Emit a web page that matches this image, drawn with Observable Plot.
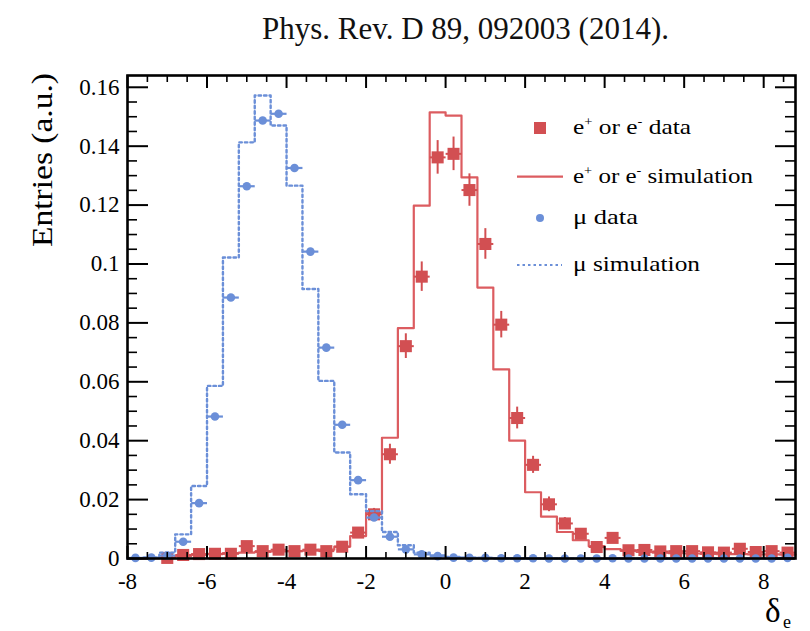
<!DOCTYPE html>
<html><head><meta charset="utf-8">
<script src="https://cdn.jsdelivr.net/npm/d3@7"></script>
<script src="https://cdn.jsdelivr.net/npm/@observablehq/plot@0.6"></script>
<style>
body{margin:0;background:#fff;width:810px;height:631px;overflow:hidden;font-family:"Liberation Serif","Times New Roman",serif}
#hdr{height:60px;position:relative}
#hdr span{position:absolute;left:262px;top:11px;font-size:31px;white-space:nowrap;color:#111}
#chart svg{display:block}
</style></head><body>
<div id="hdr"><span>Phys. Rev. D 89, 092003 (2014).</span></div>
<div id="chart"></div>
<script>
// bin centres (bin width 0.4, range -8 .. 8.8)
const binCenters = [-7.8,-7.4,-7.0,-6.6,-6.2,-5.8,-5.4,-5.0,-4.6,-4.2,-3.8,-3.4,-3.0,-2.6,-2.2,-1.8,-1.4,-1.0,-0.6,-0.2,
  0.2,0.6,1.0,1.4,1.8,2.2,2.6,3.0,3.4,3.8,4.2,4.6,5.0,5.4,5.8,6.2,6.6,7.0,7.4,7.8,8.2,8.6];
const binHalfWidth = 0.2;
const xMax = 8.8;
// mu simulation (dotted histogram)
const muSim = [0,0.0003,0.002,0.0082,0.0246,0.0586,0.1022,0.1413,0.1572,0.1470,0.1266,0.0915,0.0603,0.0360,0.0218,0.0161,0.0090,0.0045,0.0020,0.0010,
  0.0005,0.0003,0.0002,0.0001,0.0001,0,0,0,0,0,0,0,0,0,0,0,0,0,0,0,0,0];
// mu data (points)
const muData = [0.0002,0.0003,0.0010,0.0057,0.0188,0.0482,0.0886,0.1264,0.1487,0.1510,0.1326,0.1042,0.0716,0.0454,0.0266,0.0139,0.0074,0.0031,0.0014,0.0008,
  0.0003,0.0002,0.0002,0.0001,0.0001,0.0001,0,0,0,0,0.0001,0,0,0,0,0,0,0,0,0,0,0.0002];
// e simulation (solid histogram)
const eSim = [0,0.0001,0.0003,0.0008,0.0012,0.0015,0.0018,0.0020,0.0022,0.0024,0.0025,0.0027,0.0030,0.0040,0.0076,0.0156,0.0410,0.0782,0.1198,0.1515,
  0.1504,0.1294,0.0920,0.0642,0.0400,0.0225,0.0142,0.0090,0.0062,0.0042,0.0032,0.0026,0.0022,0.0020,0.0018,0.0017,0.0016,0.0015,0.0015,0.0014,0.0014,0.0013];
// e data (squares) and their vertical errors
const eData = [null,null,0.0002,0.0012,0.0015,0.0016,0.0016,0.0042,0.0025,0.0030,0.0025,0.0030,0.0025,0.0040,0.0088,0.0150,0.0354,0.0721,0.0957,0.1362,
  0.1374,0.1251,0.1068,0.0794,0.0477,0.0318,0.0184,0.0119,0.0084,0.0039,0.0070,0.0028,0.0029,0.0024,0.0025,0.0025,0.0021,0.0020,0.0033,0.0022,0.0025,0.0020];
const eErr = [null,null,0.001,0.001,0.001,0.001,0.001,0.001,0.001,0.001,0.001,0.001,0.001,0.001,0.0015,0.002,0.0034,0.0042,0.005,0.0057,
  0.0057,0.0055,0.0052,0.0045,0.0037,0.0029,0.0025,0.002,0.0017,0.001,0.001,0.001,0.001,0.001,0.001,0.001,0.001,0.001,0.001,0.001,0.001,0.001];
const xTicks = [-8,-6,-4,-2,0,2,4,6,8];
const yTicks = [0,0.02,0.04,0.06,0.08,0.1,0.12,0.14,0.16];
const legendItems = [
  {kind:"square", parts:["e","+"," or e","-"," data"], w:118},
  {kind:"line", parts:["e","+"," or e","-"," simulation"], w:180},
  {kind:"dot", parts:["\u03bc data"], w:65},
  {kind:"dotted", parts:["\u03bc simulation"], w:127}
];
const yTitle = "Entries (a.u.)";

const red = "#d24f52", redLine = "#dc5c60", blue = "#6b8fd8";

const eRows = binCenters.map((c,i)=>({c, v:eData[i], e:eErr[i]})).filter(d=>d.v!=null);
const muRows = binCenters.map((c,i)=>({c, v:muData[i]}));
const steps = arr => binCenters.map((c,i)=>({x:c-binHalfWidth, y:arr[i]})).concat([{x:xMax, y:arr[arr.length-1]}]);

const W = 810, H = 571, mT = 15, mB = 73, mL = 127, mR = 15;
const iH = H - mT - mB, iW = W - mL - mR;
const xMinor = d3.range(-16, 18).map(k=>k*0.5).filter(d=>d%2!==0 && d<=xMax);
const yMinor = d3.range(0, 33).map(k=>k*0.005).filter(d=>Math.abs(d/0.02-Math.round(d/0.02))>1e-6 && d<=0.164);

function annotations(index, scales, values, dim) {
  const g = d3.create("svg:g").attr("font-family",'"Liberation Serif","Times New Roman",serif').attr("fill","#000").attr("text-anchor","start");
  const fx = dim.marginLeft, fy = dim.marginTop;
  // legend
  const lx = fx + 413, rowY = [53, 101.7, 143, 190], tx = fx + 446;
  legendItems.forEach((it, k) => {
    const y = fy + rowY[k];
    if (it.kind === "square") g.append("rect").attr("x", lx-6).attr("y", y-6).attr("width",12).attr("height",12).attr("fill", red);
    if (it.kind === "line") g.append("line").attr("x1", lx-23).attr("x2", lx+23).attr("y1", y).attr("y2", y).attr("stroke", redLine).attr("stroke-width", 2.2);
    if (it.kind === "dot") g.append("circle").attr("cx", lx).attr("cy", y).attr("r", 4).attr("fill", blue);
    if (it.kind === "dotted") g.append("line").attr("x1", lx-23).attr("x2", lx+22).attr("y1", y).attr("y2", y).attr("stroke", blue).attr("stroke-width", 2.2).attr("stroke-dasharray","2.5,3");
    const t = g.append("text").attr("x", tx).attr("y", y+6).attr("font-size", 21).attr("text-anchor","start")
      .attr("textLength", it.w).attr("lengthAdjust", "spacingAndGlyphs");
    if (it.parts.length === 1) t.text(it.parts[0]);
    else {
      t.append("tspan").text(it.parts[0]);
      t.append("tspan").attr("font-size", 12).attr("dy", -8).text(it.parts[1]);
      t.append("tspan").attr("dy", 8).text(it.parts[2]);
      t.append("tspan").attr("font-size", 12).attr("dy", -8).text(it.parts[3]);
      t.append("tspan").attr("dy", 8).text(it.parts[4]);
    }
  });
  // y title
  g.append("text").attr("transform", `translate(${fx-75},${fy-2}) rotate(-90)`).attr("text-anchor","end")
    .attr("font-size", 29).attr("textLength", 174).attr("lengthAdjust","spacingAndGlyphs").text(yTitle);
  // x title delta_e
  const bx = dim.width - dim.marginRight, by = dim.height - dim.marginBottom;
  g.append("text").attr("x", bx-30).attr("y", by+64).attr("font-size", 33).text("\u03b4");
  g.append("text").attr("x", bx-12).attr("y", by+70).attr("font-size", 18).text("e");
  return g.node();
}

const chart = Plot.plot({
  width: W, height: H, marginTop: mT, marginBottom: mB, marginLeft: mL, marginRight: mR,
  x: {domain: [-8, xMax]},
  y: {domain: [0, 0.164]},
  style: {fontFamily: '"Liberation Serif","Times New Roman",serif', fontSize: "23px", color: "#000", background: "#fff", overflow: "visible"},
  marks: [
    Plot.line(steps(eSim), {x:"x", y:"y", curve:"step-after", stroke: redLine, strokeWidth: 2.2}),
    Plot.ruleX(eRows, {x:"c", y1: d=>d.v-d.e, y2: d=>d.v+d.e, stroke: red, strokeWidth: 2}),
    Plot.link(eRows, {x1: d=>d.c-binHalfWidth, x2: d=>d.c+binHalfWidth, y1:"v", y2:"v", stroke: red, strokeWidth: 2}),
    Plot.dot(eRows, {x:"c", y:"v", symbol:"square", r: 6.8, fill: red}),
    Plot.line(steps(muSim), {x:"x", y:"y", curve:"step-after", stroke: blue, strokeWidth: 2.4, strokeDasharray: "2.5,3"}),
    Plot.link(muRows, {x1: d=>d.c-binHalfWidth, x2: d=>d.c+binHalfWidth, y1:"v", y2:"v", stroke: blue, strokeWidth: 2.2}),
    Plot.dot(muRows, {x:"c", y:"v", r: 4.3, fill: blue}),
    // inward ticks
    Plot.tickX(xTicks, {x: d=>d, insetTop: iH-12, stroke:"#000", strokeWidth: 2}),
    Plot.tickX(xMinor, {x: d=>d, insetTop: iH-6, stroke:"#000", strokeWidth: 1.6}),
    Plot.tickX(xTicks, {x: d=>d, insetBottom: iH-13, stroke:"#000", strokeWidth: 2}),
    Plot.tickX(xMinor, {x: d=>d, insetBottom: iH-7, stroke:"#000", strokeWidth: 1.6}),
    Plot.tickY(yTicks, {y: d=>d, insetRight: iW-21, stroke:"#000", strokeWidth: 2}),
    Plot.tickY(yMinor, {y: d=>d, insetRight: iW-10, stroke:"#000", strokeWidth: 1.6}),
    Plot.tickY(yTicks, {y: d=>d, insetLeft: iW-20, stroke:"#000", strokeWidth: 2}),
    Plot.tickY(yMinor, {y: d=>d, insetLeft: iW-10, stroke:"#000", strokeWidth: 1.6}),
    Plot.frame({stroke:"#000", strokeWidth: 2.6}),
    Plot.axisX(xTicks, {anchor:"bottom", tickSize: 0, tickPadding: 14, tickFormat: d=>String(d), label: null}),
    Plot.axisY(yTicks, {anchor:"left", tickSize: 0, tickPadding: 8, tickFormat: d=>String(d), label: null}),
    annotations
  ]
});
document.getElementById("chart").appendChild(chart);
</script>
</body></html>
